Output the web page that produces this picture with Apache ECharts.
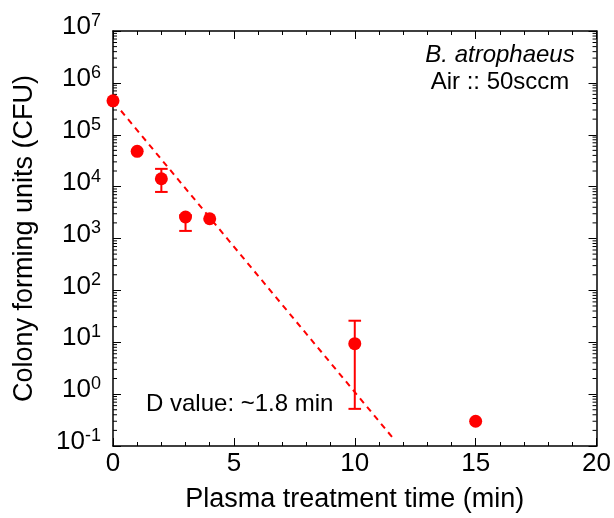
<!DOCTYPE html>
<html><head><meta charset="utf-8">
<script src="https://cdn.jsdelivr.net/npm/echarts@6/dist/echarts.min.js"></script>
<style>html,body{margin:0;padding:0;background:#fff}#c{width:614px;height:518px}</style>
</head><body><div id="c"></div>
<script>
// Data
const times = [0, 1, 2, 3, 4, 10, 15];
const cfu = [4.5e5, 4.8e4, 1.42e4, 2.6e3, 2.4e3, 9.4, 0.30];
const errTimes = [2, 3, 10];
const errLow = [7.9e3, 1.4e3, 0.52];
const errHigh = [2.2e4, 2.8e3, 26];
const fitTimes = [0.33, 11.56];
const fitCfu = [2.9e5, 0.146];
const xTickLabels = ['0', '5', '10', '15', '20'];
const yDecadeExponents = [-1, 0, 1, 2, 3, 4, 5, 6, 7];
const minorMultipliers = [2, 3, 4, 5, 6, 7, 8, 9];

const FONT = '"Liberation Sans", Arial, Helvetica, sans-serif';
const RED = '#ff0000';

const minorTickVals = [];
yDecadeExponents.slice(0, -1).forEach(e => {
  minorMultipliers.forEach(m => minorTickVals.push([0, m * Math.pow(10, e)]));
});

const chart = echarts.init(document.getElementById('c'), null, {renderer: 'canvas'});

const xCommon = {
  type: 'value', min: 0, max: 20, interval: 5,
  axisLine: {show: true, onZero: false, lineStyle: {color: '#000', width: 1.5}},
  axisTick: {show: true, inside: true, length: 8, lineStyle: {color: '#000', width: 1}},
  minorTick: {show: true, splitNumber: 5, length: 4, lineStyle: {color: '#000', width: 1}},
  splitLine: {show: false}, minorSplitLine: {show: false}
};
const yCommon = {
  type: 'log', logBase: 10, min: 0.1, max: 1e7, interval: 1,
  axisLine: {show: true, onZero: false, lineStyle: {color: '#000', width: 1.5}},
  axisTick: {show: true, inside: true, length: 8, lineStyle: {color: '#000', width: 1}},
  minorTick: {show: false},
  splitLine: {show: false}
};

const option = {
  backgroundColor: '#fff',
  animation: false,
  grid: {left: 113, right: 17, top: 31, bottom: 69},
  xAxis: [
    Object.assign({}, xCommon, {
      position: 'bottom',
      name: 'Plasma treatment time (min)', nameLocation: 'middle', nameGap: 40,
      nameTextStyle: {fontFamily: FONT, fontSize: 27, color: '#000'},
      axisLabel: {show: true, margin: 5, fontFamily: FONT, fontSize: 26, color: '#000',
        formatter: v => xTickLabels[xTickLabels.indexOf(String(v))] || ''}
    }),
    Object.assign({}, xCommon, {position: 'top', axisLabel: {show: false}})
  ],
  yAxis: [
    Object.assign({}, yCommon, {
      position: 'left',
      name: 'Colony forming units (CFU)', nameLocation: 'middle', nameGap: 75,
      nameTextStyle: {fontFamily: FONT, fontSize: 27, color: '#000'},
      axisLabel: {
        show: true, margin: 12, color: '#000', padding: [0, 0, 8, 0],
        formatter: v => {
          const e = Math.round(Math.log10(v));
          return '{b|10}{s|' + (e < 0 ? '-' + (-e) : e) + '}';
        },
        rich: {
          b: {fontFamily: FONT, fontSize: 26, lineHeight: 30, color: '#000'},
          s: {fontFamily: FONT, fontSize: 18, lineHeight: 8, verticalAlign: 'top', color: '#000'}
        }
      }
    }),
    Object.assign({}, yCommon, {position: 'right', axisLabel: {show: false}})
  ],
  graphic: [
    {type: 'text', x: 500, y: 55, style: {text: 'B. atrophaeus', fontFamily: FONT, fontSize: 24, fontStyle: 'italic', fill: '#000', textAlign: 'center', textVerticalAlign: 'middle'}},
    {type: 'text', x: 500, y: 82, style: {text: 'Air :: 50sccm', fontFamily: FONT, fontSize: 24, fill: '#000', textAlign: 'center', textVerticalAlign: 'middle'}},
    {type: 'text', x: 146, y: 404, style: {text: 'D value: ~1.8 min', fontFamily: FONT, fontSize: 24, fill: '#000', textAlign: 'left', textVerticalAlign: 'middle'}}
  ],
  series: [
    {
      type: 'custom', name: 'minorTicks', xAxisIndex: 0, yAxisIndex: 0, silent: true, clip: false, z: 1,
      data: minorTickVals,
      renderItem: (params, api) => {
        const cs = params.coordSys;
        const y = api.coord([0, api.value(1)])[1];
        const st = {stroke: '#000', lineWidth: 1};
        return {type: 'group', children: [
          {type: 'line', shape: {x1: cs.x, y1: y, x2: cs.x + 4, y2: y}, style: st},
          {type: 'line', shape: {x1: cs.x + cs.width - 4, y1: y, x2: cs.x + cs.width, y2: y}, style: st}
        ]};
      }
    },
    {
      type: 'line', name: 'fit', data: fitTimes.map((t, i) => [t, fitCfu[i]]),
      symbol: 'none', lineStyle: {color: RED, width: 2, type: [6, 5]}, z: 2
    },
    {
      type: 'custom', name: 'errors', silent: true, z: 3,
      data: errTimes.map((t, i) => [t, errLow[i], errHigh[i]]),
      renderItem: (params, api) => {
        const lo = api.coord([api.value(0), api.value(1)]);
        const hi = api.coord([api.value(0), api.value(2)]);
        const w = 6.3;
        const st = {stroke: RED, lineWidth: 2};
        return {type: 'group', children: [
          {type: 'line', shape: {x1: lo[0], y1: lo[1], x2: hi[0], y2: hi[1]}, style: st},
          {type: 'line', shape: {x1: lo[0] - w, y1: lo[1], x2: lo[0] + w, y2: lo[1]}, style: st},
          {type: 'line', shape: {x1: hi[0] - w, y1: hi[1], x2: hi[0] + w, y2: hi[1]}, style: st}
        ]};
      }
    },
    {
      type: 'scatter', name: 'CFU', data: times.map((t, i) => [t, cfu[i]]),
      symbol: 'circle', symbolSize: 13, itemStyle: {color: RED, opacity: 1}, z: 4, clip: false
    }
  ]
};
chart.setOption(option);
</script>
</body></html>
